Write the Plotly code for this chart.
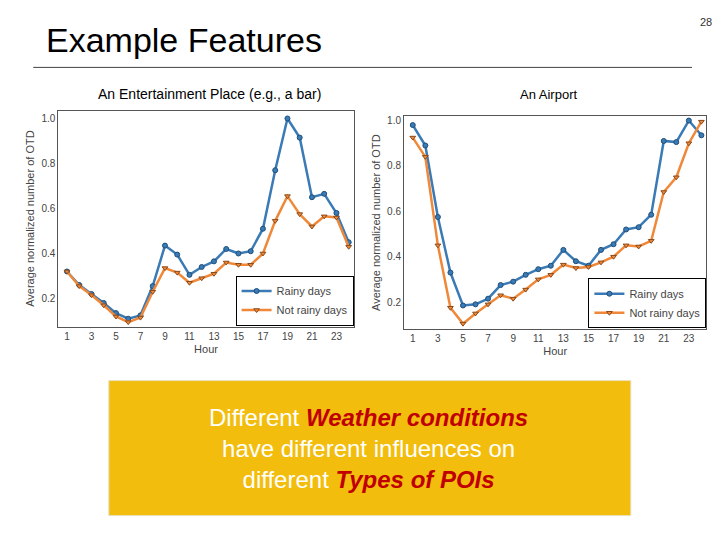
import plotly.graph_objects as go
from plotly.subplots import make_subplots

hours = list(range(1, 25))
bar_rainy = [0.32, 0.26, 0.22, 0.18, 0.135, 0.11, 0.125, 0.255, 0.435, 0.395, 0.305, 0.34,
             0.365, 0.42, 0.40, 0.41, 0.51, 0.77, 1.0, 0.915, 0.65, 0.665, 0.58, 0.45]
bar_not_rainy = [0.32, 0.255, 0.215, 0.17, 0.12, 0.095, 0.115, 0.23, 0.335, 0.315, 0.27, 0.29,
                 0.31, 0.36, 0.35, 0.35, 0.40, 0.545, 0.655, 0.575, 0.52, 0.565, 0.56, 0.43]
airport_rainy = [0.98, 0.89, 0.575, 0.33, 0.185, 0.19, 0.215, 0.275, 0.29, 0.32, 0.345, 0.36,
                 0.43, 0.38, 0.36, 0.43, 0.455, 0.52, 0.53, 0.585, 0.91, 0.905, 1.0, 0.935]
airport_not_rainy = [0.925, 0.84, 0.45, 0.175, 0.105, 0.15, 0.19, 0.23, 0.215, 0.255, 0.30, 0.32,
                     0.365, 0.35, 0.355, 0.375, 0.40, 0.45, 0.445, 0.47, 0.685, 0.75, 0.90, 0.995]
xticks = list(range(1, 24, 2))
yticks = [0.2, 0.4, 0.6, 0.8, 1.0]

blue = '#3a7ab5'
orange = '#f0883a'

fig = make_subplots(rows=1, cols=2)
for col, r, n, leg in [(1, bar_rainy, bar_not_rainy, 'legend'), (2, airport_rainy, airport_not_rainy, 'legend2')]:
    fig.add_trace(go.Scatter(x=hours, y=r, mode='lines+markers', name='Rainy days', legend=leg,
                             line=dict(color=blue, width=2.5),
                             marker=dict(symbol='circle', size=5, color=blue, line=dict(color='#1f4f7a', width=1))),
                  row=1, col=col)
    fig.add_trace(go.Scatter(x=hours, y=n, mode='lines+markers', name='Not rainy days', legend=leg,
                             line=dict(color=orange, width=2.5),
                             marker=dict(symbol='triangle-down', size=5, color=orange, line=dict(color='#8a4a1a', width=1))),
                  row=1, col=col)

axis_style = dict(showgrid=False, showline=True, mirror=True, linecolor='#555', linewidth=1,
                  tickfont=dict(size=10, color='#444', family='Liberation Sans Narrow, Arial'), ticks='')
fig.update_xaxes(tickvals=xticks, range=[0.3, 24.4], title=dict(text='Hour', font=dict(size=11, color='#444'), standoff=4), **axis_style)
fig.update_yaxes(tickvals=yticks, tickformat='.1f', title=dict(text='Average normalized number of OTD', font=dict(size=11, color='#444'), standoff=4), **axis_style)
fig.update_layout(
    xaxis=dict(domain=[0.07, 0.48]), xaxis2=dict(domain=[0.55, 0.97]),
    yaxis=dict(domain=[0.41, 0.81], range=[0.075, 1.035]),
    yaxis2=dict(domain=[0.405, 0.8], range=[0.08, 1.02]),
)

leg_style = dict(bgcolor='white', bordercolor='black', borderwidth=1, font=dict(size=11, color='#444'),
                 xanchor='right', yanchor='bottom', tracegroupgap=0)
fig.update_layout(
    legend=dict(x=0.48, y=0.412, **leg_style),
    legend2=dict(x=0.97, y=0.407, **leg_style),
)

fig.add_shape(type='line', xref='paper', yref='paper', x0=0.035, x1=0.95, y0=0.89, y1=0.89,
              line=dict(color='#444', width=1))
fig.add_shape(type='rect', xref='paper', yref='paper', x0=0.14, x1=0.865, y0=0.06, y1=0.31,
              fillcolor='#f2bd0c', line=dict(color='#e8e0c0', width=1), layer='below')

fig.add_annotation(x=0.05, y=0.94, xref='paper', yref='paper', text='Example Features', showarrow=False,
                   xanchor='left', yanchor='middle', font=dict(size=34, family='Liberation Sans, Arial', color='black'))
fig.add_annotation(x=0.97, y=0.975, xref='paper', yref='paper', text='28', showarrow=False,
                   xanchor='center', yanchor='middle', font=dict(size=11, color='#333'))
fig.add_annotation(x=0.28, y=0.84, xref='paper', yref='paper', text='An Entertainment Place (e.g., a bar)',
                   showarrow=False, xanchor='center', yanchor='middle',
                   font=dict(size=14, color='black', family='Liberation Sans, Arial'))
fig.add_annotation(x=0.75, y=0.84, xref='paper', yref='paper', text='An Airport',
                   showarrow=False, xanchor='center', yanchor='middle',
                   font=dict(size=13, color='black', family='Liberation Sans, Arial'))
fig.add_annotation(x=0.5, y=0.185, xref='paper', yref='paper', showarrow=False, align='center',
                   xanchor='center', yanchor='middle',
                   text="Different <b><i><span style='color:#c00000'>Weather conditions</span></i></b><br>"
                        "have different influences on<br>different <b><i><span style='color:#c00000'>Types of POIs</span></i></b>",
                   font=dict(size=24, color='white', family='Liberation Sans, Arial'))

fig.update_layout(width=720, height=540, margin=dict(l=0, r=0, t=0, b=0),
                  paper_bgcolor='white', plot_bgcolor='white', font=dict(family='Liberation Sans, Arial'))
fig.write_html('out.html')
